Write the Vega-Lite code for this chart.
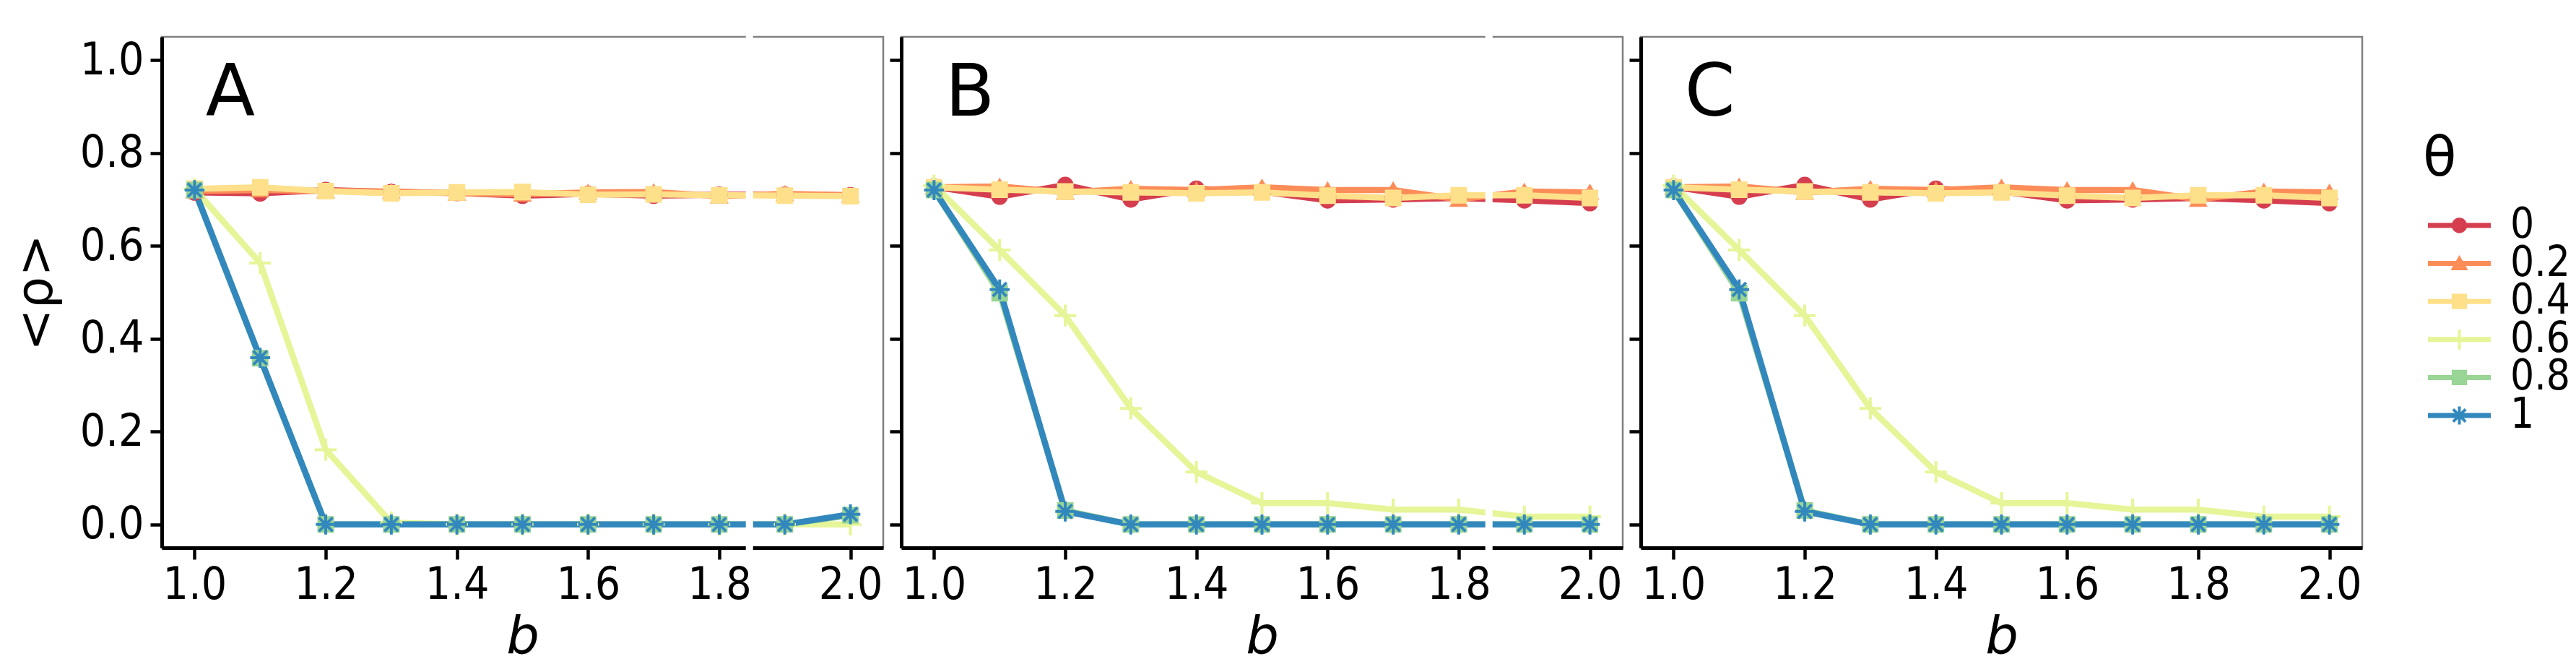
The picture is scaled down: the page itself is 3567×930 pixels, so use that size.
{
"$schema": "https://vega.github.io/schema/vega-lite/v6.json",
"background": "white",
"padding": {"left": 14, "top": 42, "right": 0, "bottom": 5},
"bounds": "flush",
"spacing": 25,
"datasets": {
"main": [
{"panel":"A","theta":"0","b":1.0,"rho":0.715},{"panel":"A","theta":"0","b":1.1,"rho":0.713},{"panel":"A","theta":"0","b":1.2,"rho":0.720},{"panel":"A","theta":"0","b":1.3,"rho":0.716},{"panel":"A","theta":"0","b":1.4,"rho":0.714},{"panel":"A","theta":"0","b":1.5,"rho":0.708},{"panel":"A","theta":"0","b":1.6,"rho":0.712},{"panel":"A","theta":"0","b":1.7,"rho":0.708},{"panel":"A","theta":"0","b":1.8,"rho":0.710},{"panel":"A","theta":"0","b":1.9,"rho":0.710},{"panel":"A","theta":"0","b":2.0,"rho":0.709},
{"panel":"A","theta":"0.2","b":1.0,"rho":0.718},{"panel":"A","theta":"0.2","b":1.1,"rho":0.720},{"panel":"A","theta":"0.2","b":1.2,"rho":0.718},{"panel":"A","theta":"0.2","b":1.3,"rho":0.717},{"panel":"A","theta":"0.2","b":1.4,"rho":0.713},{"panel":"A","theta":"0.2","b":1.5,"rho":0.711},{"panel":"A","theta":"0.2","b":1.6,"rho":0.715},{"panel":"A","theta":"0.2","b":1.7,"rho":0.716},{"panel":"A","theta":"0.2","b":1.8,"rho":0.707},{"panel":"A","theta":"0.2","b":1.9,"rho":0.712},{"panel":"A","theta":"0.2","b":2.0,"rho":0.709},
{"panel":"A","theta":"0.4","b":1.0,"rho":0.723},{"panel":"A","theta":"0.4","b":1.1,"rho":0.726},{"panel":"A","theta":"0.4","b":1.2,"rho":0.718},{"panel":"A","theta":"0.4","b":1.3,"rho":0.713},{"panel":"A","theta":"0.4","b":1.4,"rho":0.715},{"panel":"A","theta":"0.4","b":1.5,"rho":0.716},{"panel":"A","theta":"0.4","b":1.6,"rho":0.710},{"panel":"A","theta":"0.4","b":1.7,"rho":0.711},{"panel":"A","theta":"0.4","b":1.8,"rho":0.709},{"panel":"A","theta":"0.4","b":1.9,"rho":0.708},{"panel":"A","theta":"0.4","b":2.0,"rho":0.707},
{"panel":"A","theta":"0.6","b":1.0,"rho":0.722},{"panel":"A","theta":"0.6","b":1.1,"rho":0.563},{"panel":"A","theta":"0.6","b":1.2,"rho":0.161},{"panel":"A","theta":"0.6","b":1.3,"rho":0.004},{"panel":"A","theta":"0.6","b":1.4,"rho":0.0},{"panel":"A","theta":"0.6","b":1.5,"rho":0.0},{"panel":"A","theta":"0.6","b":1.6,"rho":0.0},{"panel":"A","theta":"0.6","b":1.7,"rho":0.0},{"panel":"A","theta":"0.6","b":1.8,"rho":0.0},{"panel":"A","theta":"0.6","b":1.9,"rho":0.0},{"panel":"A","theta":"0.6","b":2.0,"rho":0.0},
{"panel":"A","theta":"0.8","b":1.0,"rho":0.72},{"panel":"A","theta":"0.8","b":1.1,"rho":0.358},{"panel":"A","theta":"0.8","b":1.2,"rho":0.0},{"panel":"A","theta":"0.8","b":1.3,"rho":0.0},{"panel":"A","theta":"0.8","b":1.4,"rho":0.0},{"panel":"A","theta":"0.8","b":1.5,"rho":0.0},{"panel":"A","theta":"0.8","b":1.6,"rho":0.0},{"panel":"A","theta":"0.8","b":1.7,"rho":0.0},{"panel":"A","theta":"0.8","b":1.8,"rho":0.0},{"panel":"A","theta":"0.8","b":1.9,"rho":0.0},{"panel":"A","theta":"0.8","b":2.0,"rho":0.02},
{"panel":"A","theta":"1","b":1.0,"rho":0.72},{"panel":"A","theta":"1","b":1.1,"rho":0.359},{"panel":"A","theta":"1","b":1.2,"rho":0.0},{"panel":"A","theta":"1","b":1.3,"rho":0.0},{"panel":"A","theta":"1","b":1.4,"rho":0.0},{"panel":"A","theta":"1","b":1.5,"rho":0.0},{"panel":"A","theta":"1","b":1.6,"rho":0.0},{"panel":"A","theta":"1","b":1.7,"rho":0.0},{"panel":"A","theta":"1","b":1.8,"rho":0.0},{"panel":"A","theta":"1","b":1.9,"rho":0.0},{"panel":"A","theta":"1","b":2.0,"rho":0.022},

{"panel":"B","theta":"0","b":1.0,"rho":0.727},{"panel":"B","theta":"0","b":1.1,"rho":0.706},{"panel":"B","theta":"0","b":1.2,"rho":0.731},{"panel":"B","theta":"0","b":1.3,"rho":0.700},{"panel":"B","theta":"0","b":1.4,"rho":0.723},{"panel":"B","theta":"0","b":1.5,"rho":0.717},{"panel":"B","theta":"0","b":1.6,"rho":0.698},{"panel":"B","theta":"0","b":1.7,"rho":0.700},{"panel":"B","theta":"0","b":1.8,"rho":0.703},{"panel":"B","theta":"0","b":1.9,"rho":0.698},{"panel":"B","theta":"0","b":2.0,"rho":0.692},
{"panel":"B","theta":"0.2","b":1.0,"rho":0.726},{"panel":"B","theta":"0.2","b":1.1,"rho":0.728},{"panel":"B","theta":"0.2","b":1.2,"rho":0.715},{"panel":"B","theta":"0.2","b":1.3,"rho":0.723},{"panel":"B","theta":"0.2","b":1.4,"rho":0.720},{"panel":"B","theta":"0.2","b":1.5,"rho":0.726},{"panel":"B","theta":"0.2","b":1.6,"rho":0.720},{"panel":"B","theta":"0.2","b":1.7,"rho":0.720},{"panel":"B","theta":"0.2","b":1.8,"rho":0.700},{"panel":"B","theta":"0.2","b":1.9,"rho":0.717},{"panel":"B","theta":"0.2","b":2.0,"rho":0.715},
{"panel":"B","theta":"0.4","b":1.0,"rho":0.726},{"panel":"B","theta":"0.4","b":1.1,"rho":0.721},{"panel":"B","theta":"0.4","b":1.2,"rho":0.717},{"panel":"B","theta":"0.4","b":1.3,"rho":0.715},{"panel":"B","theta":"0.4","b":1.4,"rho":0.713},{"panel":"B","theta":"0.4","b":1.5,"rho":0.715},{"panel":"B","theta":"0.4","b":1.6,"rho":0.708},{"panel":"B","theta":"0.4","b":1.7,"rho":0.703},{"panel":"B","theta":"0.4","b":1.8,"rho":0.709},{"panel":"B","theta":"0.4","b":1.9,"rho":0.709},{"panel":"B","theta":"0.4","b":2.0,"rho":0.703},
{"panel":"B","theta":"0.6","b":1.0,"rho":0.73},{"panel":"B","theta":"0.6","b":1.1,"rho":0.591},{"panel":"B","theta":"0.6","b":1.2,"rho":0.450},{"panel":"B","theta":"0.6","b":1.3,"rho":0.250},{"panel":"B","theta":"0.6","b":1.4,"rho":0.113},{"panel":"B","theta":"0.6","b":1.5,"rho":0.046},{"panel":"B","theta":"0.6","b":1.6,"rho":0.046},{"panel":"B","theta":"0.6","b":1.7,"rho":0.032},{"panel":"B","theta":"0.6","b":1.8,"rho":0.032},{"panel":"B","theta":"0.6","b":1.9,"rho":0.017},{"panel":"B","theta":"0.6","b":2.0,"rho":0.017},
{"panel":"B","theta":"0.8","b":1.0,"rho":0.72},{"panel":"B","theta":"0.8","b":1.1,"rho":0.498},{"panel":"B","theta":"0.8","b":1.2,"rho":0.03},{"panel":"B","theta":"0.8","b":1.3,"rho":0.0},{"panel":"B","theta":"0.8","b":1.4,"rho":0.0},{"panel":"B","theta":"0.8","b":1.5,"rho":0.0},{"panel":"B","theta":"0.8","b":1.6,"rho":0.0},{"panel":"B","theta":"0.8","b":1.7,"rho":0.0},{"panel":"B","theta":"0.8","b":1.8,"rho":0.0},{"panel":"B","theta":"0.8","b":1.9,"rho":0.0},{"panel":"B","theta":"0.8","b":2.0,"rho":0.0},
{"panel":"B","theta":"1","b":1.0,"rho":0.72},{"panel":"B","theta":"1","b":1.1,"rho":0.506},{"panel":"B","theta":"1","b":1.2,"rho":0.028},{"panel":"B","theta":"1","b":1.3,"rho":0.0},{"panel":"B","theta":"1","b":1.4,"rho":0.0},{"panel":"B","theta":"1","b":1.5,"rho":0.0},{"panel":"B","theta":"1","b":1.6,"rho":0.0},{"panel":"B","theta":"1","b":1.7,"rho":0.0},{"panel":"B","theta":"1","b":1.8,"rho":0.0},{"panel":"B","theta":"1","b":1.9,"rho":0.0},{"panel":"B","theta":"1","b":2.0,"rho":0.0},

{"panel":"C","theta":"0","b":1.0,"rho":0.727},{"panel":"C","theta":"0","b":1.1,"rho":0.706},{"panel":"C","theta":"0","b":1.2,"rho":0.731},{"panel":"C","theta":"0","b":1.3,"rho":0.700},{"panel":"C","theta":"0","b":1.4,"rho":0.723},{"panel":"C","theta":"0","b":1.5,"rho":0.717},{"panel":"C","theta":"0","b":1.6,"rho":0.698},{"panel":"C","theta":"0","b":1.7,"rho":0.700},{"panel":"C","theta":"0","b":1.8,"rho":0.703},{"panel":"C","theta":"0","b":1.9,"rho":0.698},{"panel":"C","theta":"0","b":2.0,"rho":0.692},
{"panel":"C","theta":"0.2","b":1.0,"rho":0.726},{"panel":"C","theta":"0.2","b":1.1,"rho":0.728},{"panel":"C","theta":"0.2","b":1.2,"rho":0.715},{"panel":"C","theta":"0.2","b":1.3,"rho":0.723},{"panel":"C","theta":"0.2","b":1.4,"rho":0.720},{"panel":"C","theta":"0.2","b":1.5,"rho":0.726},{"panel":"C","theta":"0.2","b":1.6,"rho":0.720},{"panel":"C","theta":"0.2","b":1.7,"rho":0.720},{"panel":"C","theta":"0.2","b":1.8,"rho":0.700},{"panel":"C","theta":"0.2","b":1.9,"rho":0.717},{"panel":"C","theta":"0.2","b":2.0,"rho":0.715},
{"panel":"C","theta":"0.4","b":1.0,"rho":0.726},{"panel":"C","theta":"0.4","b":1.1,"rho":0.721},{"panel":"C","theta":"0.4","b":1.2,"rho":0.717},{"panel":"C","theta":"0.4","b":1.3,"rho":0.715},{"panel":"C","theta":"0.4","b":1.4,"rho":0.713},{"panel":"C","theta":"0.4","b":1.5,"rho":0.715},{"panel":"C","theta":"0.4","b":1.6,"rho":0.708},{"panel":"C","theta":"0.4","b":1.7,"rho":0.703},{"panel":"C","theta":"0.4","b":1.8,"rho":0.709},{"panel":"C","theta":"0.4","b":1.9,"rho":0.709},{"panel":"C","theta":"0.4","b":2.0,"rho":0.703},
{"panel":"C","theta":"0.6","b":1.0,"rho":0.73},{"panel":"C","theta":"0.6","b":1.1,"rho":0.591},{"panel":"C","theta":"0.6","b":1.2,"rho":0.450},{"panel":"C","theta":"0.6","b":1.3,"rho":0.250},{"panel":"C","theta":"0.6","b":1.4,"rho":0.113},{"panel":"C","theta":"0.6","b":1.5,"rho":0.046},{"panel":"C","theta":"0.6","b":1.6,"rho":0.046},{"panel":"C","theta":"0.6","b":1.7,"rho":0.032},{"panel":"C","theta":"0.6","b":1.8,"rho":0.032},{"panel":"C","theta":"0.6","b":1.9,"rho":0.017},{"panel":"C","theta":"0.6","b":2.0,"rho":0.017},
{"panel":"C","theta":"0.8","b":1.0,"rho":0.72},{"panel":"C","theta":"0.8","b":1.1,"rho":0.498},{"panel":"C","theta":"0.8","b":1.2,"rho":0.03},{"panel":"C","theta":"0.8","b":1.3,"rho":0.0},{"panel":"C","theta":"0.8","b":1.4,"rho":0.0},{"panel":"C","theta":"0.8","b":1.5,"rho":0.0},{"panel":"C","theta":"0.8","b":1.6,"rho":0.0},{"panel":"C","theta":"0.8","b":1.7,"rho":0.0},{"panel":"C","theta":"0.8","b":1.8,"rho":0.0},{"panel":"C","theta":"0.8","b":1.9,"rho":0.0},{"panel":"C","theta":"0.8","b":2.0,"rho":0.0},
{"panel":"C","theta":"1","b":1.0,"rho":0.72},{"panel":"C","theta":"1","b":1.1,"rho":0.506},{"panel":"C","theta":"1","b":1.2,"rho":0.028},{"panel":"C","theta":"1","b":1.3,"rho":0.0},{"panel":"C","theta":"1","b":1.4,"rho":0.0},{"panel":"C","theta":"1","b":1.5,"rho":0.0},{"panel":"C","theta":"1","b":1.6,"rho":0.0},{"panel":"C","theta":"1","b":1.7,"rho":0.0},{"panel":"C","theta":"1","b":1.8,"rho":0.0},{"panel":"C","theta":"1","b":1.9,"rho":0.0},{"panel":"C","theta":"1","b":2.0,"rho":0.0}
]
},
"hconcat": [
{
"width": 999, "height": 707,
"data": {"name": "main"},
"transform": [{"filter": "datum.panel == 'A'"}],
"encoding": {
"x": {"field": "b", "type": "quantitative", "scale": {"domain": [0.95, 2.05], "nice": false, "zero": false}, "axis": {"values": [1, 1.2, 1.4, 1.6, 1.8, 2], "format": ".1f", "title": "b", "titleFontStyle": "italic"}},
"y": {"field": "rho", "type": "quantitative", "scale": {"domain": [-0.05, 1.05], "nice": false, "zero": false}, "axis": {"values": [0, 0.2, 0.4, 0.6, 0.8, 1], "format": ".1f", "title": "<ρ>"}}
},
"layer": [
{"mark": {"type": "line", "strokeWidth": 8.5}, "encoding": {"color": {"field": "theta", "type": "nominal", "scale": {"domain": ["0","0.2","0.4","0.6","0.8","1"], "range": ["#d53e4f","#fc8d59","#fee08b","#e6f598","#99d594","#3288bd"]}, "legend": null}}},
{"mark": {"type": "point", "filled": true, "opacity": 1, "strokeWidth": 4, "size": 361},
 "encoding": {
 "color": {"field": "theta", "type": "nominal", "scale": {"domain": ["0","0.2","0.4","0.6","0.8","1"], "range": ["#d53e4f","#fc8d59","#fee08b","#e6f598","#99d594","#3288bd"]}, "legend": null},
 "stroke": {"field": "theta", "type": "nominal", "scale": {"domain": ["0","0.2","0.4","0.6","0.8","1"], "range": ["#d53e4f","#fc8d59","#fee08b","#e6f598","#99d594","#3288bd"]}, "legend": null},
 "shape": {"field": "theta", "type": "nominal", "scale": {"domain": ["0","0.2","0.4","0.6","0.8","1"], "range": ["circle","triangle-up","square","M-1.6,0H1.6M0,-1.6V1.6","square","M0,-1.45V1.45M-1.45,0H1.45M-1,-1L1,1M-1,1L1,-1"]}, "legend": null}
 }},
{"transform": [{"filter": "datum.theta == '0' && datum.b == 1"}], "mark": {"type": "text", "fontSize": 100, "align": "left", "baseline": "alphabetic", "color": "black"}, "encoding": {"x": {"datum": 1.017}, "y": {"datum": 0.8806}, "text": {"field": "panel"}}},
{"transform": [{"filter": "datum.theta == '0' && datum.b == 1"}], "mark": {"type": "rule", "color": "white", "strokeWidth": 10, "strokeCap": "square"}, "encoding": {"x": {"datum": 1.846}, "y": null}}
]
},
{
"width": 999, "height": 707,
"data": {"name": "main"},
"transform": [{"filter": "datum.panel == 'B'"}],
"encoding": {
"x": {"field": "b", "type": "quantitative", "scale": {"domain": [0.95, 2.05], "nice": false, "zero": false}, "axis": {"values": [1, 1.2, 1.4, 1.6, 1.8, 2], "format": ".1f", "title": "b", "titleFontStyle": "italic"}},
"y": {"field": "rho", "type": "quantitative", "scale": {"domain": [-0.05, 1.05], "nice": false, "zero": false}, "axis": {"values": [0, 0.2, 0.4, 0.6, 0.8, 1], "labels": false, "title": null}}
},
"layer": [
{"mark": {"type": "line", "strokeWidth": 8.5}, "encoding": {"color": {"field": "theta", "type": "nominal", "scale": {"domain": ["0","0.2","0.4","0.6","0.8","1"], "range": ["#d53e4f","#fc8d59","#fee08b","#e6f598","#99d594","#3288bd"]}, "legend": null}}},
{"mark": {"type": "point", "filled": true, "opacity": 1, "strokeWidth": 4, "size": 361},
 "encoding": {
 "color": {"field": "theta", "type": "nominal", "scale": {"domain": ["0","0.2","0.4","0.6","0.8","1"], "range": ["#d53e4f","#fc8d59","#fee08b","#e6f598","#99d594","#3288bd"]}, "legend": null},
 "stroke": {"field": "theta", "type": "nominal", "scale": {"domain": ["0","0.2","0.4","0.6","0.8","1"], "range": ["#d53e4f","#fc8d59","#fee08b","#e6f598","#99d594","#3288bd"]}, "legend": null},
 "shape": {"field": "theta", "type": "nominal", "scale": {"domain": ["0","0.2","0.4","0.6","0.8","1"], "range": ["circle","triangle-up","square","M-1.6,0H1.6M0,-1.6V1.6","square","M0,-1.45V1.45M-1.45,0H1.45M-1,-1L1,1M-1,1L1,-1"]}, "legend": null}
 }},
{"transform": [{"filter": "datum.theta == '0' && datum.b == 1"}], "mark": {"type": "text", "fontSize": 100, "align": "left", "baseline": "alphabetic", "color": "black"}, "encoding": {"x": {"datum": 1.017}, "y": {"datum": 0.8806}, "text": {"field": "panel"}}},
{"transform": [{"filter": "datum.theta == '0' && datum.b == 1"}], "mark": {"type": "rule", "color": "white", "strokeWidth": 10, "strokeCap": "square"}, "encoding": {"x": {"datum": 1.846}, "y": null}}
]
},
{
"width": 999, "height": 707,
"data": {"name": "main"},
"transform": [{"filter": "datum.panel == 'C'"}],
"encoding": {
"x": {"field": "b", "type": "quantitative", "scale": {"domain": [0.95, 2.05], "nice": false, "zero": false}, "axis": {"values": [1, 1.2, 1.4, 1.6, 1.8, 2], "format": ".1f", "title": "b", "titleFontStyle": "italic"}},
"y": {"field": "rho", "type": "quantitative", "scale": {"domain": [-0.05, 1.05], "nice": false, "zero": false}, "axis": {"values": [0, 0.2, 0.4, 0.6, 0.8, 1], "labels": false, "title": null}}
},
"layer": [
{"mark": {"type": "line", "strokeWidth": 8.5}, "encoding": {"color": {"field": "theta", "type": "nominal", "scale": {"domain": ["0","0.2","0.4","0.6","0.8","1"], "range": ["#d53e4f","#fc8d59","#fee08b","#e6f598","#99d594","#3288bd"]}, "legend": null}}},
{"mark": {"type": "point", "filled": true, "opacity": 1, "strokeWidth": 4, "size": 361},
 "encoding": {
 "color": {"field": "theta", "type": "nominal", "scale": {"domain": ["0","0.2","0.4","0.6","0.8","1"], "range": ["#d53e4f","#fc8d59","#fee08b","#e6f598","#99d594","#3288bd"]}, "legend": null},
 "stroke": {"field": "theta", "type": "nominal", "scale": {"domain": ["0","0.2","0.4","0.6","0.8","1"], "range": ["#d53e4f","#fc8d59","#fee08b","#e6f598","#99d594","#3288bd"]}, "legend": null},
 "shape": {"field": "theta", "type": "nominal", "scale": {"domain": ["0","0.2","0.4","0.6","0.8","1"], "range": ["circle","triangle-up","square","M-1.6,0H1.6M0,-1.6V1.6","square","M0,-1.45V1.45M-1.45,0H1.45M-1,-1L1,1M-1,1L1,-1"]}, "legend": null}
 }},
{"transform": [{"filter": "datum.theta == '0' && datum.b == 1"}], "mark": {"type": "text", "fontSize": 100, "align": "left", "baseline": "alphabetic", "color": "black"}, "encoding": {"x": {"datum": 1.017}, "y": {"datum": 0.8806}, "text": {"field": "panel"}}}
]
},
{
"width": 250, "height": 707,
"view": {"stroke": null},
"title": {"text": "θ", "anchor": "start", "frame": "group", "fontSize": 76, "fontWeight": "normal", "baseline": "alphabetic", "dx": 59, "dy": 272, "color": "black"},
"data": {"name": "main"},
"transform": [{"filter": "datum.panel == 'A' && datum.b == 1"}],
"encoding": {
"y": {"field": "theta", "type": "ordinal", "scale": {"type": "point", "domain": ["0","0.2","0.4","0.6","0.8","1"], "range": [261, 524], "padding": 0}, "axis": null}
},
"layer": [
{"mark": {"type": "rule", "strokeWidth": 7}, "encoding": {"x": {"datum": 66, "type": "quantitative", "scale": {"domain": [0, 250], "nice": false, "zero": false}, "axis": null}, "x2": {"datum": 153}, "color": {"field": "theta", "type": "nominal", "scale": {"domain": ["0","0.2","0.4","0.6","0.8","1"], "range": ["#d53e4f","#fc8d59","#fee08b","#e6f598","#99d594","#3288bd"]}, "legend": null}}},
{"mark": {"type": "point", "filled": true, "opacity": 1, "strokeWidth": 4, "size": 300},
 "encoding": {
 "x": {"datum": 109.5, "type": "quantitative"},
 "color": {"field": "theta", "type": "nominal", "scale": {"domain": ["0","0.2","0.4","0.6","0.8","1"], "range": ["#d53e4f","#fc8d59","#fee08b","#e6f598","#99d594","#3288bd"]}, "legend": null},
 "stroke": {"field": "theta", "type": "nominal", "scale": {"domain": ["0","0.2","0.4","0.6","0.8","1"], "range": ["#d53e4f","#fc8d59","#fee08b","#e6f598","#99d594","#3288bd"]}, "legend": null},
 "shape": {"field": "theta", "type": "nominal", "scale": {"domain": ["0","0.2","0.4","0.6","0.8","1"], "range": ["circle","triangle-up","square","M-1.6,0H1.6M0,-1.6V1.6","square","M0,-1.45V1.45M-1.45,0H1.45M-1,-1L1,1M-1,1L1,-1"]}, "legend": null}
 }},
{"mark": {"type": "text", "fontSize": 58, "font": "DejaVu Sans Condensed, DejaVu Sans", "align": "left", "baseline": "middle", "color": "black"}, "encoding": {"x": {"datum": 180, "type": "quantitative"}, "text": {"field": "theta"}}}
]
}
],
"config": {
"font": "DejaVu Sans",
"view": {"stroke": "#808080", "strokeWidth": 2.5},
"axis": {"grid": false, "domainColor": "black", "domainWidth": 5, "tickColor": "black", "tickWidth": 4.5, "tickSize": 16, "labelFontSize": 62, "labelColor": "black", "labelFont": "DejaVu Sans Condensed, DejaVu Sans", "labelPadding": 9, "titleFontSize": 70, "titleFontWeight": "normal", "titleColor": "black", "titleFont": "DejaVu Sans"},
"axisX": {"titlePadding": 6, "titleFontSize": 72, "labelPadding": 5},
"axisY": {"titlePadding": 24}
}
}
